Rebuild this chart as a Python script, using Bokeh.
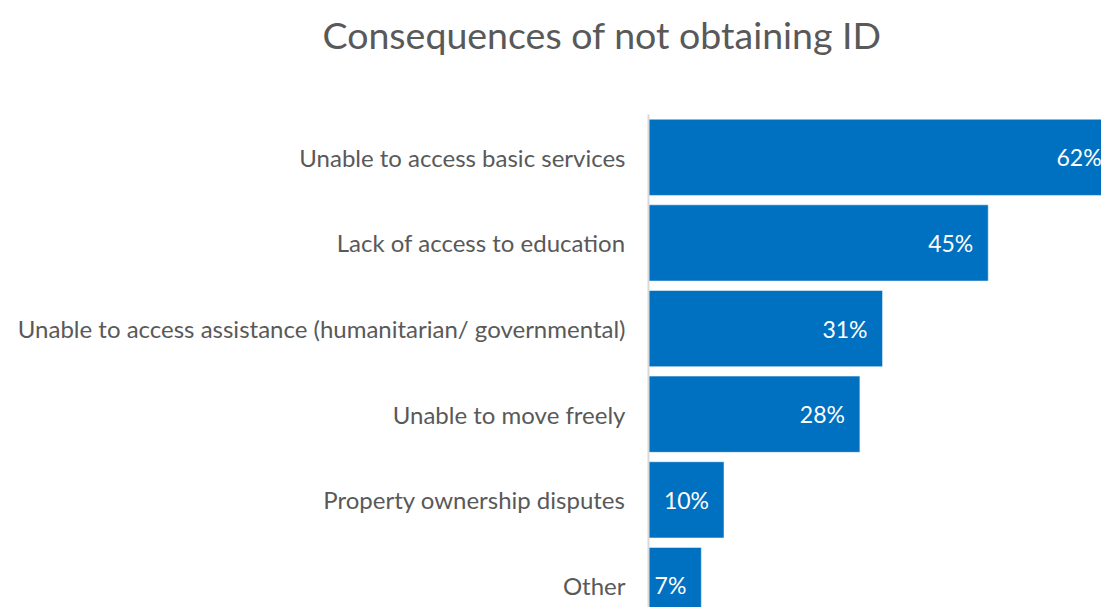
from bokeh.plotting import figure
from bokeh.models import Range1d, FixedTicker, ColumnDataSource, Title
from bokeh.core.properties import value
from bokeh.embed import file_html
from bokeh.resources import INLINE

categories = [
    "Unable to access basic services",
    "Lack of access to education",
    "Unable to access assistance (humanitarian/ governmental)",
    "Unable to move freely",
    "Property ownership disputes",
    "Other",
]
percentages = [62, 45, 31, 28, 10, 7]
title_text = "Consequences of not obtaining ID"

positions = list(range(len(categories)))
src = ColumnDataSource(dict(
    y=positions,
    v=percentages,
    lab=[f"{v}%" for v in percentages],
))

p = figure(
    width=1101, height=607,
    x_range=Range1d(0, 60.0),
    y_range=Range1d(start=5.257, end=-0.50),
    output_backend="svg", toolbar_location=None,
    min_border_left=648, min_border_right=0, min_border_top=114, min_border_bottom=0,
)
p.title = None

# spacer between the title and the plot frame
spacer = Title(text=" ", text_font_size="1px", standoff=53)
p.add_layout(spacer, "above")

main_title = Title(
    text=title_text,
    text_font="Lato", text_font_size="37.5px", text_font_style="normal",
    text_color="#595959", align="left", offset=-326,
    vertical_align="top", standoff=0,
)
p.add_layout(main_title, "above")

p.hbar(y="y", left=0, right="v", height=0.89, source=src,
       fill_color="#0070C0", line_color="white", line_alpha=0.5, line_width=1)
p.text(x="v", y="y", text="lab", source=src, x_offset=-15,
       text_align="right", text_baseline="middle",
       text_font=value("Lato"), text_font_size="23px", text_color="white")

p.xaxis.visible = False
p.xgrid.visible = False
p.ygrid.visible = False
p.outline_line_color = None

ax = p.yaxis[0]
ax.ticker = FixedTicker(ticks=positions)
ax.major_label_overrides = {i: c for i, c in zip(positions, categories)}
ax.major_label_text_font = "Lato"
ax.major_label_text_font_size = "24px"
ax.major_label_text_color = "#595959"
ax.major_label_standoff = 17
ax.major_tick_line_color = None
ax.minor_tick_line_color = None
ax.axis_line_color = "#D9D9D9"
ax.axis_line_width = 2

open("out.html", "w").write(file_html(p, INLINE))
